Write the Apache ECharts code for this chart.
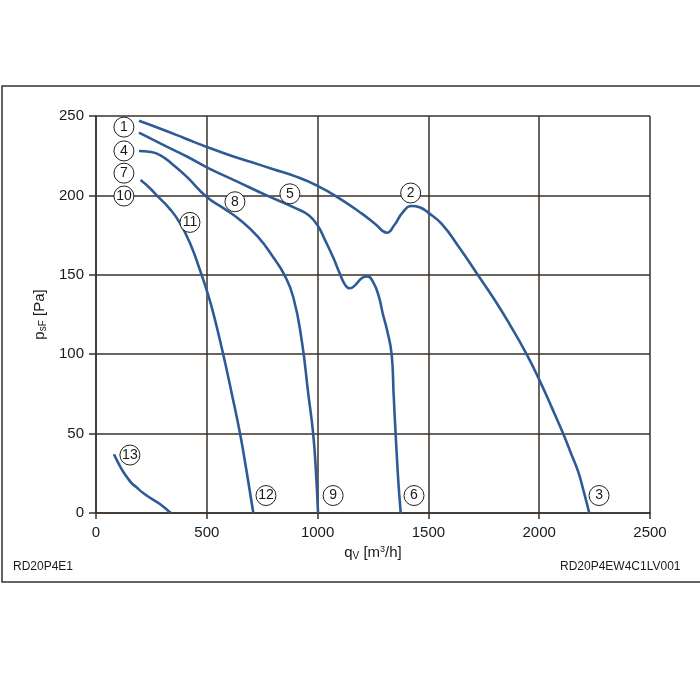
<!DOCTYPE html>
<html>
<head>
<meta charset="utf-8">
<script src="https://cdn.jsdelivr.net/npm/echarts@6/dist/echarts.min.js"></script>
<style>html,body{margin:0;padding:0;background:#fff}#c{width:700px;height:700px}</style>
</head>
<body>
<div id="c"></div>
<script>
// Curve data [q_V (m3/h), p_sF (Pa)]
var curve1to3 = [[194,247],[300,241.5],[400,236],[500,230.5],[600,225.5],[700,221],[800,216.5],[900,212],[1000,206],[1100,198],[1200,188.5],[1260,182],[1313,176.5],[1345,181],[1385,189.5],[1425,193.3],[1460,192.5],[1500,189],[1560,182],[1640,167],[1718,151],[1800,134],[1870,118],[1943,100],[2000,84],[2055,67],[2108,50],[2145,37],[2176,26],[2202,13],[2226,0]];
var curve4to6 = [[194,239.5],[319,230.7],[410,224.5],[500,217.7],[640,208.5],[770,200],[900,192],[960,187.5],[1000,181],[1033,172],[1070,161],[1101,150.5],[1125,143.5],[1145,141.5],[1170,143.5],[1200,148],[1225,149],[1250,145.5],[1275,137],[1295,125],[1312,116],[1334,100],[1343,75],[1352,50],[1362,25],[1368,12.5],[1375,0]];
var curve7to9 = [[194,228],[240,227.5],[289,225.4],[350,219],[409,211.8],[500,199],[575,192],[650,184.5],[730,174],[800,161],[850,150],[890,136],[928,109],[958,75],[980,50],[993,25],[1002,0]];
var curve10to12 = [[201,209.7],[240,205],[274,200],[330,192],[379,182.6],[430,168],[469,153],[500,140],[529,126],[574,100],[613,75],[650,50],[681,25],[710,0]];
var curve13 = [[81,37],[95,33],[110,29],[125,25.5],[140,22.5],[160,19],[180,16.5],[213,12.6],[250,9],[290,5.5],[337,0]];

// Curve marker labels
var markerNames = ['1','2','3','4','5','6','7','8','9','10','11','12','13'];
var markerPos = [[126,243],[1420,201.5],[2270,11],[126,228],[875,201],[1435,11],[126,214],[627,196],[1070,11],[126,199.6],[424,183],[767,11],[153,36.5]];

// Axis settings
var xMin = 0, xMax = 2500, xStep = 500;
var yMin = 0, yMax = 250, yStep = 50;

var lineColor = '#2e5b96';
var gridColor = '#3a302a';
var textColor = '#1a1a1a';
var font = 'Liberation Sans, Arial, Helvetica, sans-serif';

function lineSeries(d) {
  return {type:'line', data:d, smooth:0.5, showSymbol:false, symbol:'none',
    lineStyle:{color:lineColor, width:2.6}, z:3, silent:true, animation:false};
}

var markerData = markerNames.map(function(n,i){ return {name:n, value:markerPos[i]}; });

var chart = echarts.init(document.getElementById('c'), null, {renderer:'canvas'});
chart.setOption({
  animation:false,
  backgroundColor:'#fff',
  grid:{left:96, right:50, top:116, bottom:187, containLabel:false},
  xAxis:{
    type:'value', min:xMin, max:xMax, interval:xStep,
    name:'q{sub|V} [m{sup|3}/h]', nameLocation:'middle', nameGap:30,
    nameTextStyle:{fontFamily:font, fontSize:15, color:textColor,
      rich:{sub:{fontFamily:font, fontSize:10, color:textColor, verticalAlign:'bottom', padding:[6,0,0,0]},
            sup:{fontFamily:font, fontSize:9, color:textColor, verticalAlign:'top', padding:[0,0,6,0]}}},
    axisLine:{show:true, onZero:false, lineStyle:{color:gridColor, width:1.5}},
    axisTick:{show:true, length:6, lineStyle:{color:gridColor, width:1.5}},
    axisLabel:{fontFamily:font, fontSize:15, color:textColor, margin:12, formatter:function(v){return String(v);}},
    splitLine:{show:true, lineStyle:{color:gridColor, width:1.5}}
  },
  yAxis:{
    type:'value', min:yMin, max:yMax, interval:yStep,
    name:'p{sub|sF} [Pa]', nameLocation:'middle', nameGap:46, nameRotate:90,
    nameTextStyle:{fontFamily:font, fontSize:15, color:textColor,
      rich:{sub:{fontFamily:font, fontSize:10, color:textColor, verticalAlign:'bottom', padding:[6,0,0,0]}}},
    axisLine:{show:true, onZero:false, lineStyle:{color:gridColor, width:1.5}},
    axisTick:{show:true, length:7, lineStyle:{color:gridColor, width:1.5}},
    axisLabel:{fontFamily:font, fontSize:15, color:textColor, margin:12, formatter:function(v){return String(v);}},
    splitLine:{show:true, lineStyle:{color:gridColor, width:1.5}}
  },
  graphic:[
    {type:'rect', shape:{x:2, y:86, width:720, height:496}, style:{fill:'none', stroke:gridColor, lineWidth:1.5}, z:-1, silent:true},
    {type:'text', left:13, top:561, style:{text:'RD20P4E1', font:'12px ' + font, fill:textColor}},
    {type:'text', left:560, top:561, style:{text:'RD20P4EW4C1LV001', font:'12px ' + font, fill:textColor}}
  ],
  series:[
    lineSeries(curve1to3),
    lineSeries(curve4to6),
    lineSeries(curve7to9),
    lineSeries(curve10to12),
    lineSeries(curve13),
    {type:'scatter', data:markerData, symbol:'circle', symbolSize:20, z:5, silent:true,
      itemStyle:{color:'#fff', borderColor:'#222', borderWidth:1, opacity:1},
      label:{show:true, position:'inside', formatter:'{b}', fontFamily:font, fontSize:14, color:textColor}}
  ]
});
</script>
</body>
</html>
